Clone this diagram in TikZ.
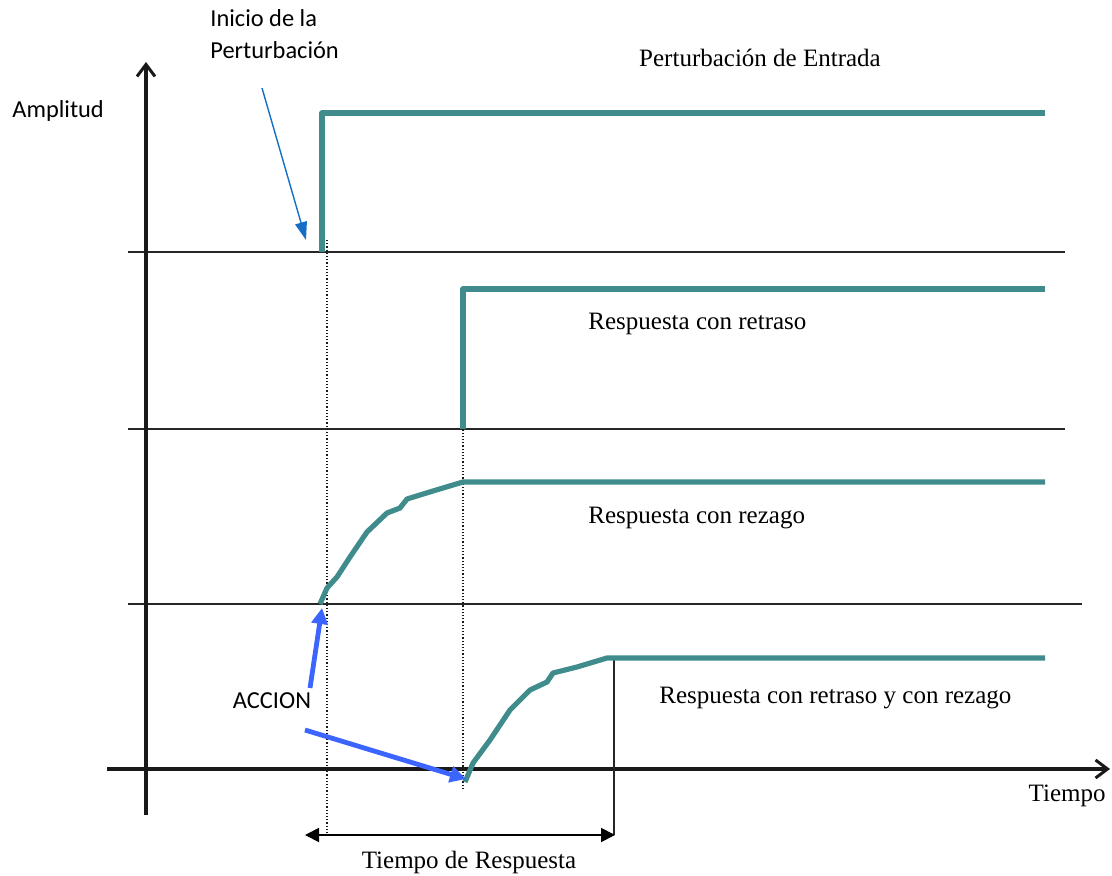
\documentclass[tikz,border=0pt]{standalone}
\usepackage{fontspec}
\setmainfont{Liberation Serif}
\newfontfamily\calib{Carlito}
\usetikzlibrary{arrows.meta}
\definecolor{teal1}{RGB}{64,140,140}
\definecolor{blueA}{RGB}{60,100,255}
\definecolor{blueB}{RGB}{20,110,200}
\tikzset{
  sig/.style={draw=teal1,line width=2.6pt,line join=round},
  base/.style={draw=black!85,line width=1pt},
  axis/.style={draw=black!90,line width=1.6pt,-{Straight Barb[length=6pt,width=9pt,line width=1.5pt]}},
  guide/.style={draw=black!90,line width=0.6pt,densely dotted},
  act/.style={draw=blueA,line width=2.4pt,-{Triangle[length=8pt,width=8pt]}},
  lab/.style={font=\fontsize{12.5}{14}\selectfont,inner sep=0pt},
  slab/.style={font=\calib\fontsize{12.2}{16}\selectfont,inner sep=0pt,align=left},
}
\begin{document}
\begin{tikzpicture}[x=0.5pt,y=-0.5pt]
\useasboundingbox (0,0) rectangle (1112,876);
% coordinates
\coordinate (yb) at (146,815);
\coordinate (yt) at (146,62);
\coordinate (xl) at (107,769);
\coordinate (xr) at (1110,769);
% baselines
\draw[base] (128,252) -- (1065,252);
\draw[base] (128,429) -- (1065,429);
\draw[base] (128,604) -- (1082,604);
% axes
\draw[axis] (yb) -- (yt);
\draw[axis] (xl) -- (xr);
% guides
\draw[guide] (327,240) -- (327,835);
\draw[guide] (463,295) -- (463,788);
\draw[draw=black!85,line width=0.8pt] (614,657) -- (614,835);
% signals
\draw[sig] (322,252) -- (322,113) -- (1045,113);
\draw[sig] (463,429) -- (463,289) -- (1045,289);
\draw[sig] (320,604) -- (327,588) -- (337,577) -- (350,557) -- (367,532) -- (387,513) -- (400,508) -- (407,499) -- (433,491) -- (463,482) -- (1045,482);
\draw[sig] (465,782) -- (473,763) -- (490,740) -- (510,710) -- (530,690) -- (547,682) -- (553,673) -- (577,667) -- (607,658) -- (1045,658);
% response time
\coordinate (rtl) at (305,835);
\coordinate (rtr) at (615,835);
\draw[draw=black,line width=0.9pt,{Triangle[length=7pt,width=7pt]}-{Triangle[length=7pt,width=7pt]}] (rtl) -- (rtr);
% labels
\node[slab,anchor=north west] (ini) at (210,9) {Inicio de la\\Perturbación};
\node[slab,anchor=west] (amp) at (12,111) {Amplitud};
\node[lab] (pe) at (760,58) {Perturbación de Entrada};
\node[lab,anchor=west] (r1) at (588,324) {Respuesta con retraso};
\node[lab,anchor=west] (r2) at (588,518) {Respuesta con rezago};
\node[lab,anchor=west] (r3) at (659,698) {Respuesta con retraso y con rezago};
\node[lab,anchor=east] (tp) at (1106,796) {Tiempo};
\node[lab] (tr) at (469,862) {Tiempo de Respuesta};
\node[slab] (acc) at (272,701) {ACCION};
% arrows
\coordinate (a0) at (262,88);
\coordinate (a1) at (306,240);
\draw[draw=blueB,line width=0.7pt,-{Triangle[length=9pt,width=6pt]}] (a0) -- (a1);
\coordinate (c0) at (310,688);
\coordinate (c1) at (322,608);
\coordinate (d0) at (305,730);
\coordinate (d1) at (466,779);
\draw[act] (c0) -- (c1);
\draw[act] (d0) -- (d1);
\end{tikzpicture}
\end{document}
